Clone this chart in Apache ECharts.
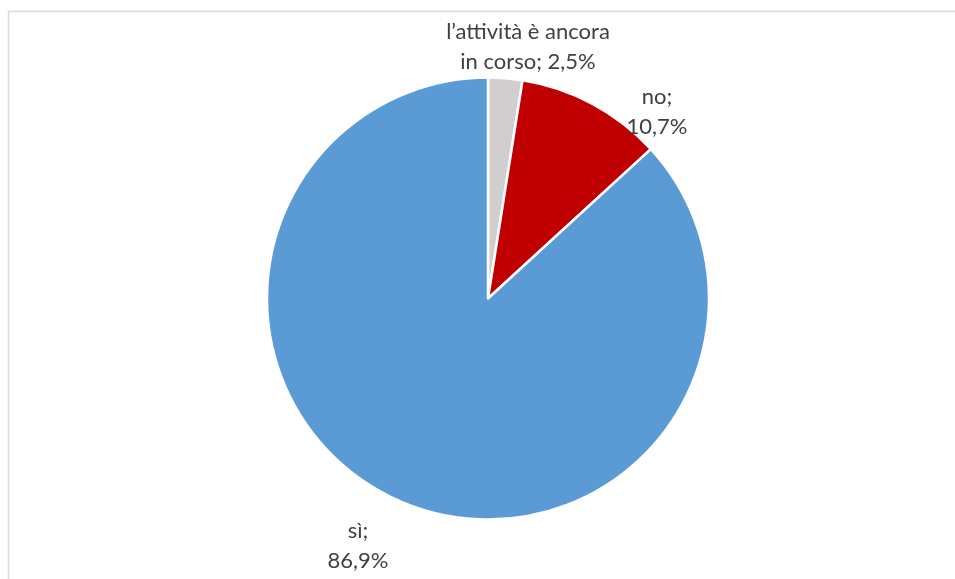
<!DOCTYPE html>
<html>
<head>
<meta charset="utf-8">
<script src="https://cdn.jsdelivr.net/npm/echarts@6/dist/echarts.min.js"></script>
<style>
  html, body { margin: 0; padding: 0; background: #fff; }
  #chart { width: 955px; height: 579px; }
</style>
</head>
<body>
<div id="chart"></div>
<script>
// Esito dell'attività: categorie, quote percentuali e colori delle fette
const categories = ['l’attività è ancora in corso', 'no', 'sì'];
const labelNames = ['l’attività è ancora\nin corso', 'no;', 'sì;'];
const shares = [2.5, 10.7, 86.9];
const sliceColors = ['#D0CECE', '#C00000', '#5B9BD5'];

// Posizioni delle etichette (centro orizzontale, riga superiore)
const labelSpots = [
  { x: 528, y: 17 },
  { x: 657, y: 82 },
  { x: 358, y: 516 }
];

function fmt(v) {
  return v.toFixed(1).replace('.', ',') + '%';
}

const data = categories.map((name, i) => ({
  name: name,
  value: shares[i],
  itemStyle: { color: sliceColors[i] },
  label: {
    formatter: i === 0
      ? labelNames[i] + '; ' + fmt(shares[i])
      : labelNames[i] + '\n' + fmt(shares[i])
  }
}));

const chart = echarts.init(document.getElementById('chart'), null, { renderer: 'canvas' });
chart.setOption({
  animation: false,
  backgroundColor: '#ffffff',
  graphic: [
    {
      type: 'polyline',
      shape: { points: [[8.5, 579], [8.5, 11.5], [955, 11.5]] },
      style: { stroke: '#d9d9d9', lineWidth: 1.5, fill: null },
      silent: true
    }
  ],
  series: [{
    type: 'pie',
    center: [488, 298.5],
    radius: [0, 221],
    startAngle: 90,
    clockwise: true,
    avoidLabelOverlap: false,
    itemStyle: { borderColor: '#ffffff', borderWidth: 2.5 },
    label: {
      show: true,
      position: 'outside',
      color: '#404040',
      fontFamily: 'Lato, "Open Sans", sans-serif',
      fontSize: 22,
      lineHeight: 30,
      align: 'center'
    },
    labelLine: { show: false },
    labelLayout: function (params) {
      const s = labelSpots[params.dataIndex];
      return { x: s.x, y: s.y, align: 'center', verticalAlign: 'top' };
    },
    data: data
  }]
});
</script>
</body>
</html>
